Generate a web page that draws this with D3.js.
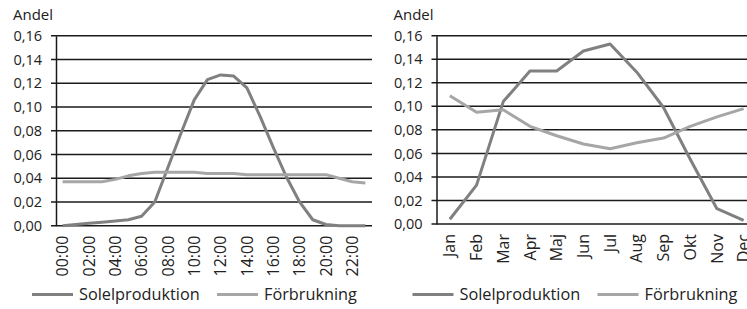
<!DOCTYPE html>
<html>
<head>
<meta charset="utf-8">
<script src="https://cdn.jsdelivr.net/npm/d3@7"></script>
<style>
  body { margin: 0; background: #fff; }
  svg { display: block; }
  text { font-family: "Open Sans", sans-serif; fill: #222; }
</style>
</head>
<body>
<svg id="chart" width="747" height="309"></svg>
<script>
// hourly chart
const hours = ['00:00', '01:00', '02:00', '03:00', '04:00', '05:00', '06:00', '07:00',
    '08:00', '09:00', '10:00', '11:00', '12:00', '13:00', '14:00', '15:00',
    '16:00', '17:00', '18:00', '19:00', '20:00', '21:00', '22:00', '23:00'];
const hourLabels = ['00:00', '02:00', '04:00', '06:00', '08:00', '10:00',
    '12:00', '14:00', '16:00', '18:00', '20:00', '22:00'];
const solHour = [0.000, 0.001, 0.002, 0.003, 0.004, 0.005, 0.008, 0.020,
    0.049, 0.078, 0.106, 0.123, 0.127, 0.126, 0.116, 0.092,
    0.066, 0.041, 0.020, 0.005, 0.001, 0.000, 0.000, 0.000];
const forbHour = [0.037, 0.037, 0.037, 0.037, 0.039, 0.042, 0.044, 0.045,
    0.045, 0.045, 0.045, 0.044, 0.044, 0.044, 0.043, 0.043,
    0.043, 0.043, 0.043, 0.043, 0.043, 0.040, 0.037, 0.036];

// monthly chart
const months = ['Jan', 'Feb', 'Mar', 'Apr', 'Maj', 'Jun', 'Jul', 'Aug', 'Sep', 'Okt', 'Nov', 'Dec'];
const solMonth = [0.004, 0.033, 0.104, 0.130, 0.130, 0.147, 0.153, 0.129, 0.099, 0.055, 0.013, 0.003];
const forbMonth = [0.109, 0.095, 0.097, 0.083, 0.075, 0.068, 0.064, 0.069, 0.073, 0.083, 0.091, 0.098];

const yTicks = [0, 0.02, 0.04, 0.06, 0.08, 0.10, 0.12, 0.14, 0.16];
const seriesNames = ['Solelproduktion', 'Förbrukning'];
const colors = ['#808080', '#a6a6a6'];

const svg = d3.select('#chart');
const fmt = d => d3.format('.2f')(d).replace('.', ',');

function drawChart(opt) {
    const g = svg.append('g');

    const x = d3.scalePoint()
            .domain(opt.categories)
            .range([opt.left, opt.right])
            .padding(0.5);
    const y = d3.scaleLinear()
            .domain([0, 0.16])
            .range([opt.bottom, opt.top]);

    // title
    g.append('text')
            .attr('x', opt.left - 43)
            .attr('y', 20)
            .style('font-size', '15px')
            .text('Andel');

    // gridlines
    g.selectAll('line.grid')
            .data(yTicks)
            .enter()
            .append('line')
            .attr('class', 'grid')
            .attr('x1', opt.left - 5)
            .attr('x2', opt.right)
            .attr('y1', d => y(d))
            .attr('y2', d => y(d))
            .attr('stroke', '#1a1a1a')
            .attr('stroke-width', 1.5);

    // y axis
    const yAxis = d3.axisLeft(y)
            .tickValues(yTicks)
            .tickFormat(fmt)
            .tickSizeInner(5)
            .tickSizeOuter(0)
            .tickPadding(9);
    const yG = g.append('g')
            .attr('transform', `translate(${opt.left}, 0)`)
            .call(yAxis);
    yG.select('.domain').attr('stroke', '#1a1a1a').attr('stroke-width', 1.5);
    yG.selectAll('.tick line').remove();
    yG.selectAll('text')
            .style('font-size', '14.5px')
            .style('font-family', '"Open Sans", sans-serif')
            .attr('fill', '#222');

    // x labels
    g.selectAll('text.xlab')
            .data(opt.labels)
            .enter()
            .append('text')
            .attr('class', 'xlab')
            .attr('transform', d => `translate(${x(d)}, ${opt.bottom + 10}) rotate(-90)`)
            .attr('text-anchor', 'end')
            .attr('dy', '0.35em')
            .style('font-size', '16px')
            .text(d => d);

    // lines
    const line = d3.line()
            .x((d, i) => x(opt.categories[i]))
            .y(d => y(d));
    opt.series.forEach((s, i) => {
        g.append('path')
                .datum(s)
                .attr('fill', 'none')
                .attr('stroke', colors[i])
                .attr('stroke-width', 3)
                .attr('stroke-linejoin', 'round')
                .attr('d', line);
    });

    // legend
    const lx = [opt.left - 24, opt.left + 161];
    seriesNames.forEach((name, i) => {
        g.append('line')
                .attr('x1', lx[i])
                .attr('x2', lx[i] + 41)
                .attr('y1', 294.5)
                .attr('y2', 294.5)
                .attr('stroke', colors[i])
                .attr('stroke-width', 3);
        g.append('text')
                .attr('x', lx[i] + 47)
                .attr('y', 300)
                .style('font-size', '16.3px')
                .text(name);
    });
}

drawChart({
    categories: hours,
    labels: hourLabels,
    series: [solHour, forbHour],
    left: 56,
    right: 372,
    top: 35.7,
    bottom: 225.7
});

drawChart({
    categories: months,
    labels: months,
    series: [solMonth, forbMonth],
    left: 436.5,
    right: 757,
    top: 35.7,
    bottom: 224
});
</script>
</body>
</html>
